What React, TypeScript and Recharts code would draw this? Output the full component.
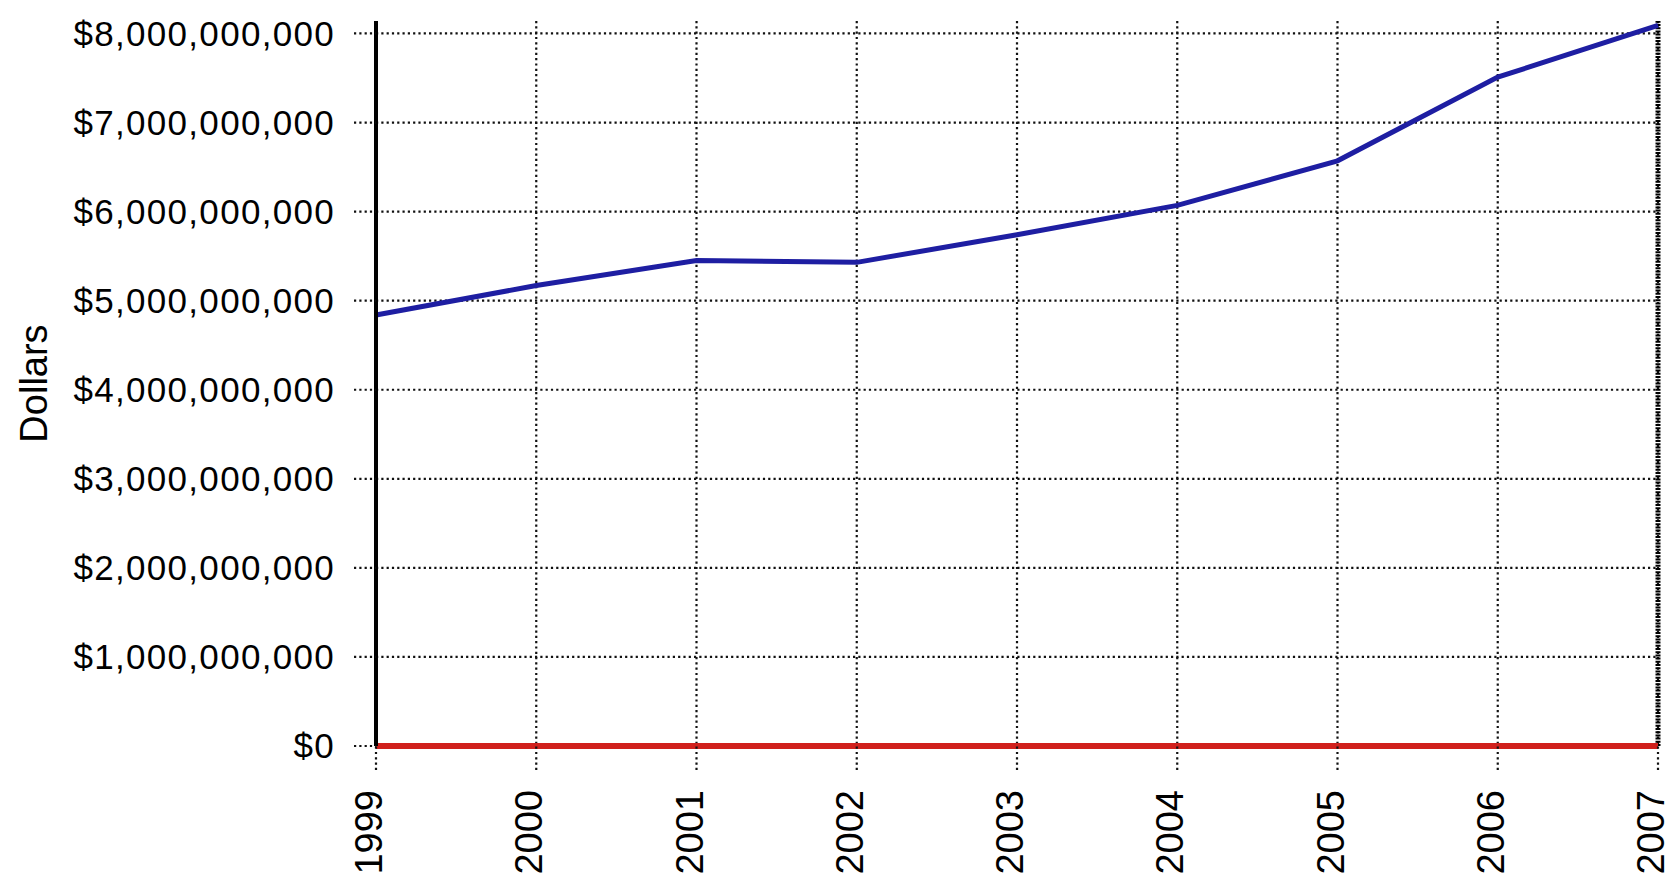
import React from 'react';
import { LineChart, Line, XAxis, YAxis, CartesianGrid, ReferenceLine, Label } from 'recharts';

const years = ['1999', '2000', '2001', '2002', '2003', '2004', '2005', '2006', '2007'];
const spending = [4.84e9, 5.17e9, 5.45e9, 5.43e9, 5.74e9, 6.07e9, 6.57e9, 7.51e9, 8.09e9];
const baseline = [0, 0, 0, 0, 0, 0, 0, 0, 0];
const majorTicks = [0, 1e9, 2e9, 3e9, 4e9, 5e9, 6e9, 7e9, 8e9];
const minorTicks = [
  0, 0.2e9, 0.4e9, 0.6e9, 0.8e9, 1e9, 1.2e9, 1.4e9, 1.6e9, 1.8e9,
  2e9, 2.2e9, 2.4e9, 2.6e9, 2.8e9, 3e9, 3.2e9, 3.4e9, 3.6e9, 3.8e9,
  4e9, 4.2e9, 4.4e9, 4.6e9, 4.8e9, 5e9, 5.2e9, 5.4e9, 5.6e9, 5.8e9,
  6e9, 6.2e9, 6.4e9, 6.6e9, 6.8e9, 7e9, 7.2e9, 7.4e9, 7.6e9, 7.8e9, 8e9,
];
const yMax = 8.14e9;
const yLabel = 'Dollars';

const data = years.map((year, i) => ({ year, spending: spending[i], baseline: baseline[i] }));

const FONT = '"Liberation Sans", Arial, sans-serif';

const fmt = (v: number) => '$' + Math.round(v).toLocaleString('en-US');

const XTick = (props: any) => {
  const { x, y, payload } = props;
  return (
    <text
      x={x}
      y={y}
      dy={6}
      transform={`rotate(-90, ${x}, ${y})`}
      textAnchor="end"
      fontSize={38}
      fontFamily={FONT}
      fill="#000"
    >
      {payload.value}
    </text>
  );
};

const EmptyTick = () => <g />;

const YLabel = (props: any) => {
  const vb = props.viewBox || {};
  const cy = (vb.y ?? 0) + (vb.height ?? 0) / 2;
  const bx = 47;
  return (
    <text
      x={bx}
      y={cy}
      transform={`rotate(-90, ${bx}, ${cy})`}
      textAnchor="middle"
      fontSize={38}
      fontFamily={FONT}
      fill="#000"
    >
      {yLabel}
    </text>
  );
};

const horizontalGen = (args: any) => {
  const { yAxis, offset } = args || {};
  if (yAxis && typeof yAxis.scale === 'function') {
    return majorTicks.map((v) => yAxis.scale(v));
  }
  return majorTicks.map((v) => offset.top + offset.height * (1 - v / yMax));
};

export default function App() {
  return (
    <div style={{ position: 'absolute', left: 0, top: 0, width: 1666, height: 879, background: '#fff' }}>
      <LineChart width={1666} height={879} data={data} margin={{ top: 21, right: 8, bottom: 0, left: 0 }}>
        <CartesianGrid
          yAxisId="main"
          stroke="#111"
          strokeDasharray="2.2 3.1"
          strokeWidth={2.2}
          horizontalCoordinatesGenerator={horizontalGen}
        />
        <XAxis
          dataKey="year"
          height={133}
          interval={0}
          tickSize={24}
          tickMargin={20}
          tickLine={{ stroke: '#111', strokeDasharray: '2.2 3.1', strokeWidth: 2.2 }}
          axisLine={false}
          tick={<XTick />}
        />
        <YAxis
          yAxisId="minor"
          width={0}
          domain={[0, yMax]}
          ticks={minorTicks}
          tickSize={8}
          tickMargin={0}
          tick={<EmptyTick />}
          tickLine={{ stroke: '#8a8a8a', strokeWidth: 2 }}
          axisLine={false}
        />
        <YAxis
          yAxisId="main"
          width={376}
          domain={[0, yMax]}
          ticks={majorTicks}
          interval={0}
          tickSize={22}
          tickMargin={19}
          tickFormatter={fmt}
          tickLine={{ stroke: '#111', strokeDasharray: '2.2 3.1', strokeWidth: 2.2 }}
          axisLine={{ stroke: '#000', strokeWidth: 4 }}
          tick={{ fontSize: 35, fontFamily: FONT, fill: '#000', letterSpacing: 1.3 }}
        >
          <Label content={<YLabel />} />
        </YAxis>
        <ReferenceLine
          yAxisId="main"
          x="2007"
          stroke="#000"
          strokeWidth={5}
          strokeDasharray="2 1.2"
        />
        <Line
          yAxisId="main"
          type="linear"
          dataKey="spending"
          stroke="#1e1ea2"
          strokeWidth={5}
          dot={false}
          activeDot={false}
          isAnimationActive={false}
        />
        <Line
          yAxisId="main"
          type="linear"
          dataKey="baseline"
          stroke="#d0201c"
          strokeWidth={6}
          dot={false}
          activeDot={false}
          isAnimationActive={false}
        />
      </LineChart>
    </div>
  );
}
